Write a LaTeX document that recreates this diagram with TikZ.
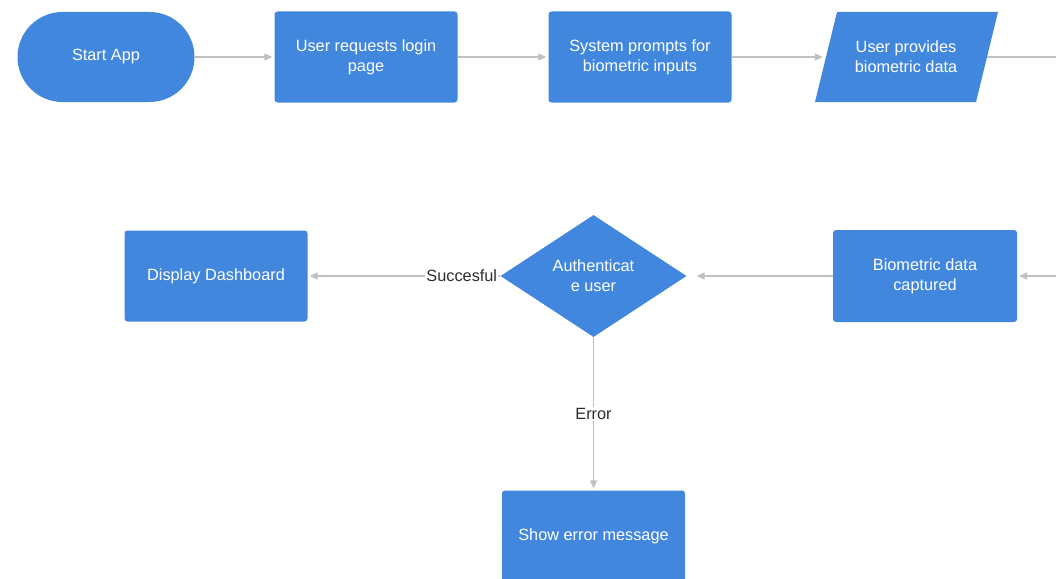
\documentclass[tikz,border=0pt]{standalone}
\usepackage{fontspec}
\setmainfont{Liberation Sans}
\usetikzlibrary{shapes.geometric,arrows.meta}
\definecolor{boxblue}{RGB}{66,135,222}
\definecolor{linegray}{RGB}{192,192,192}
\definecolor{labelgray}{RGB}{45,45,45}
\begin{document}
\begin{tikzpicture}[x=1pt,y=-1pt,
  nodefont/.style={font=\fontsize{16.3}{20}\selectfont},
  box/.style={nodefont, fill=boxblue, text=white, rounded corners=3pt,
    minimum width=183pt, minimum height=91pt, align=center, inner sep=0pt},
  startbox/.style={box, rounded corners=45pt, minimum width=177pt, minimum height=90pt},
  iobox/.style={nodefont, text=white, minimum width=162pt, minimum height=90pt, align=center, inner sep=0pt},
  decision/.style={nodefont, diamond, fill=boxblue, text=white, align=center, inner sep=0pt,
    minimum width=186pt, minimum height=122pt, aspect=1.52},
  conn/.style={draw=linegray, line width=1.4pt, -{Triangle[length=8pt,width=7pt]}, shorten >=2pt},
  lbl/.style={nodefont, fill=white, text=labelgray, inner sep=1pt}
]
\useasboundingbox (0,0) rectangle (1056,578);
\clip (0,0) rectangle (1056,578);

\node[startbox] (start) at (106,57) {Start App};
\node[box] (login) at (366,57) {User requests login\\page};
\node[box] (prompt) at (640,57) {System prompts for\\biometric inputs};
\fill[boxblue] (837,12) -- (998,12) -- (976,102) -- (815,102) -- cycle;
\node[iobox] (provide) at (906,57) {User provides\\biometric data};
\node[box, minimum width=184pt, minimum height=92pt] (captured) at (925,276) {Biometric data\\captured};
\node[decision] (auth) at (593.5,276) {Authenticat\\e user};
\node[box] (dash) at (216,276) {Display Dashboard};
\node[box] (err) at (593.5,536) {Show error message};

\draw[conn] (start) -- (login);
\draw[conn] (login) -- (prompt);
\draw[conn] (prompt.east) -- (provide.west);
\draw[conn] (provide.east) -- ++(80,0) |- (captured.east);
\draw[conn, shorten >=10pt] (captured) -- (auth);
\draw[conn] (auth.west) -- node[lbl, pos=0.2] (succ) {Succesful} (dash.east);
\draw[conn] (auth.south) -- node[lbl, pos=0.5] (errlbl) {Error} (err.north);
\end{tikzpicture}
\end{document}
